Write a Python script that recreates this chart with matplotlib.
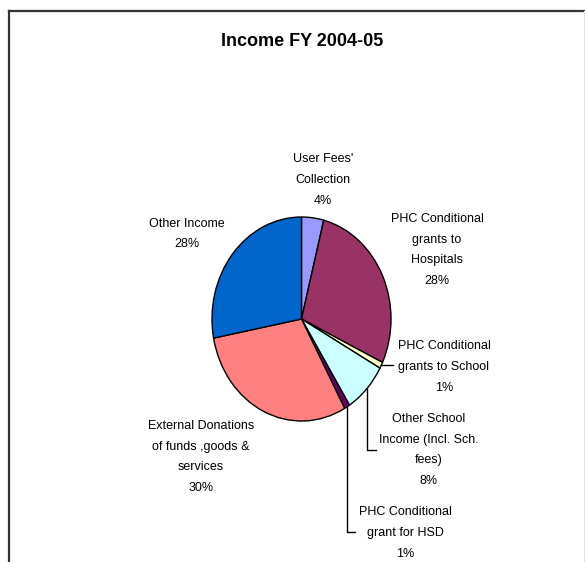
import numpy as np
import matplotlib.pyplot as plt
from matplotlib.lines import Line2D

plt.rcParams['font.family'] = ['Liberation Sans', 'DejaVu Sans']

# data (clockwise from 12 o'clock)
names = ["User Fees'\nCollection",
         "PHC Conditional\ngrants to\nHospitals",
         "PHC Conditional\ngrants to School",
         "Other School\nIncome (Incl. Sch.\nfees)",
         "PHC Conditional\ngrant for HSD",
         "External Donations\nof funds ,goods &\nservices",
         "Other Income"]
shares = [4, 28, 1, 8, 1, 30, 28]
colors = ['#9999FF', '#993366', '#FFFFCC', '#CCFFFF', '#660066', '#FF8080', '#0066CC']

W, H = 585, 562
fig = plt.figure(figsize=(W / 100, H / 100), dpi=100)
fig.patch.set_facecolor('white')


def px(x, y):
    return x / W, 1 - y / H


# pie box (the original chart is stretched a bit vertically)
left, top, right, bottom = 212, 217, 391, 421
ax = fig.add_axes([left / W, 1 - bottom / H, (right - left) / W, (bottom - top) / H])
wedges, _ = ax.pie(shares, colors=colors, startangle=90, counterclock=False,
                   wedgeprops=dict(edgecolor='black', linewidth=1.0, clip_on=False))
ax.set_aspect('auto')
ax.set_xlim(-1, 1)
ax.set_ylim(-1, 1)
ax.axis('off')

# frame around the chart area
fig.add_artist(Line2D([9 / W, 9 / W], [0, 1 - 11 / H], transform=fig.transFigure,
                      color='#333333', lw=1.6))
fig.add_artist(Line2D([9 / W, 1], [1 - 11 / H, 1 - 11 / H], transform=fig.transFigure,
                      color='#333333', lw=1.6))
fig.add_artist(Line2D([584 / W, 584 / W], [0, 1 - 11 / H], transform=fig.transFigure,
                      color='#e0e0e0', lw=0.8))

fig.text(*px(302, 41), 'Income FY 2004-05', ha='center', va='center',
         fontsize=13, fontweight='bold')

# label centres in pixels
label_pos = [(323, 180), (437, 250), (444, 367), (429, 450), (405, 533), (201, 457), (187, 234)]
for name, val, (lx, ly) in zip(names, shares, label_pos):
    fig.text(*px(lx, ly), f'{name}\n{val}%', ha='center', va='center',
             fontsize=9, linespacing=1.98)

# leader lines for the small slices
to_fig = fig.transFigure.inverted()


def edge_point(w):
    a = np.deg2rad((w.theta1 + w.theta2) / 2)
    return to_fig.transform(ax.transData.transform((np.cos(a), np.sin(a))))


x0, y0 = edge_point(wedges[2])
fig.add_artist(Line2D([x0, 393 / W], [y0, y0], transform=fig.transFigure, color='black', lw=1))

x0, y0 = edge_point(wedges[3])
fig.add_artist(Line2D([x0, x0, 376 / W], [y0, 1 - 450 / H, 1 - 450 / H],
                      transform=fig.transFigure, color='black', lw=1))

x0, y0 = edge_point(wedges[4])
fig.add_artist(Line2D([x0, x0, 355 / W], [y0, 1 - 532 / H, 1 - 532 / H],
                      transform=fig.transFigure, color='black', lw=1))

fig.savefig('out.png', dpi=100, facecolor='white')
